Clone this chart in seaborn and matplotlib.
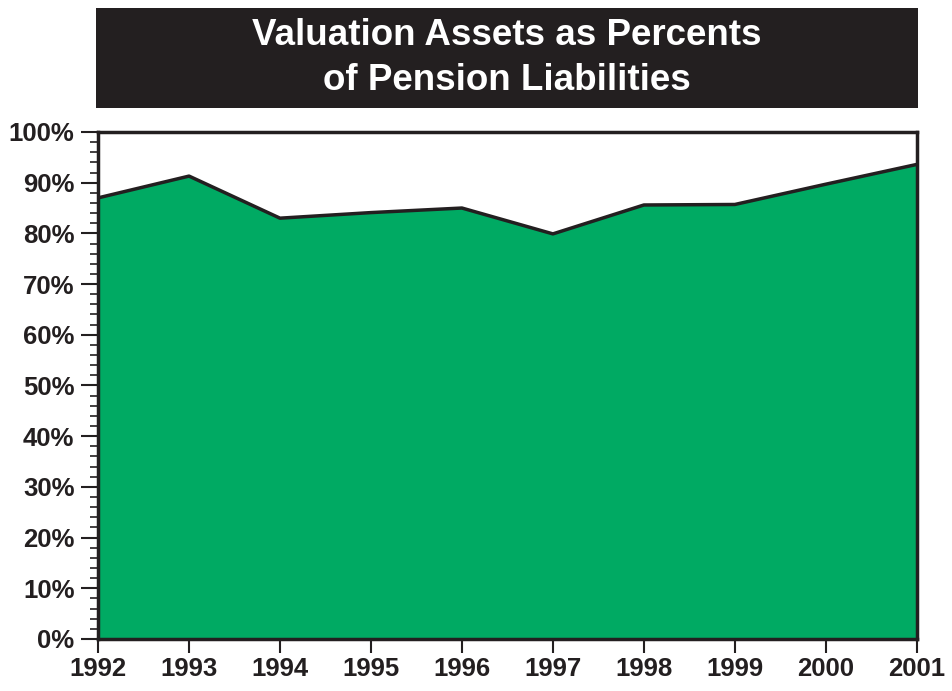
import numpy as np
import pandas as pd
import matplotlib
matplotlib.use("Agg")
import matplotlib.pyplot as plt
from matplotlib.ticker import MultipleLocator, FuncFormatter
import seaborn as sns

# values
years = [1992, 1993, 1994, 1995, 1996, 1997, 1998, 1999, 2000, 2001]
funded_pct = [87.0, 91.3, 83.0, 84.1, 85.0, 79.9, 85.6, 85.7, 89.7, 93.6]
title_lines = ["Valuation Assets as Percents", "of Pension Liabilities"]

df = pd.DataFrame({"year": years, "pct": funded_pct})

sns.set_style("white")
plt.rcParams["font.family"] = ["Liberation Sans", "DejaVu Sans"]
dark = "#231F20"
green = "#00AA63"

fig = plt.figure(figsize=(9.52, 6.91), dpi=100)
ax = fig.add_axes([0.103, 0.0753, 0.860, 0.7337])

ax.fill_between(df["year"], df["pct"], 0, color=green, linewidth=0, zorder=1)
sns.lineplot(data=df, x="year", y="pct", ax=ax, color=dark, linewidth=2.5, zorder=2)

ax.set_xlim(1992, 2001)
ax.set_ylim(0, 100)
ax.set_xticks(years)
ax.set_xticklabels([str(y) for y in years])
ax.yaxis.set_major_locator(MultipleLocator(10))
ax.yaxis.set_minor_locator(MultipleLocator(2))
ax.yaxis.set_major_formatter(FuncFormatter(lambda v, p: f"{int(v)}%"))
ax.set_xlabel("")
ax.set_ylabel("")

for s in ax.spines.values():
    s.set_color(dark)
    s.set_linewidth(2.5)
    s.set_zorder(5)

ax.tick_params(axis="both", which="major", direction="out", color=dark,
               labelcolor=dark, labelsize=18.5, width=1.5)
ax.tick_params(axis="y", which="major", length=12, pad=5, left=True)
ax.tick_params(axis="y", which="minor", length=6, width=1.2, color=dark, left=True)
ax.tick_params(axis="x", which="major", length=10, pad=3, bottom=True)
for lbl in ax.get_xticklabels() + ax.get_yticklabels():
    lbl.set_fontweight("bold")

# title box
tax = fig.add_axes([0.1008, 0.8437, 0.8634, 0.1447])
tax.set_facecolor(dark)
tax.set_xticks([])
tax.set_yticks([])
for s in tax.spines.values():
    s.set_visible(False)
tax.text(0.5, 0.5, "\n".join(title_lines), ha="center", va="center",
         color="white", fontsize=26.5, fontweight="bold", linespacing=1.38,
         transform=tax.transAxes)

fig.savefig("out.png", dpi=100)
